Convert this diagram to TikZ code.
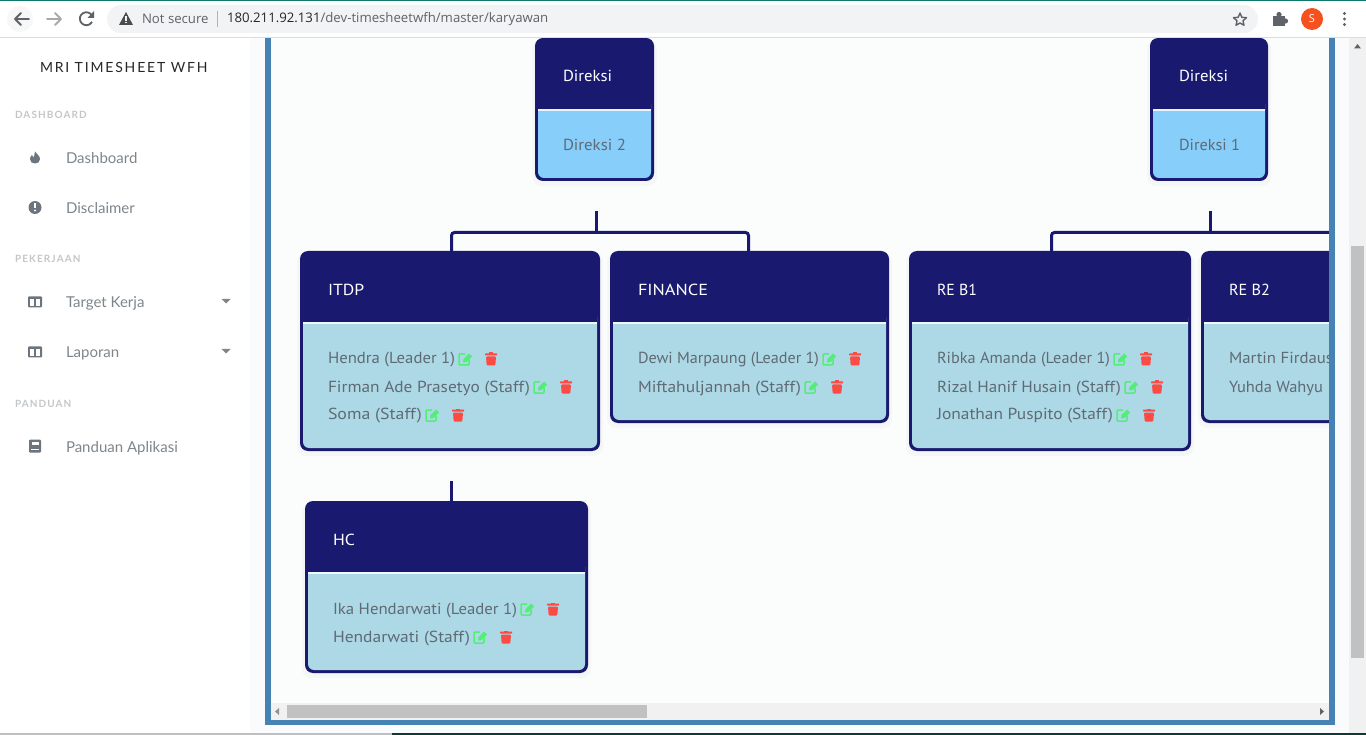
\documentclass[tikz,border=0pt]{standalone}
\usepackage{fontspec}
\setmainfont[FakeStretch=1.1]{PT Sans}
\newfontfamily\uifont{Open Sans}
\newfontfamily\sidefont{Lato}
\newfontfamily\sidespaced[LetterSpace=11]{Lato}
\newfontfamily\titlespaced[LetterSpace=13]{Lato}
\definecolor{navy}{HTML}{191970}
\definecolor{lblue}{HTML}{ADD8E6}
\definecolor{skyb}{HTML}{87CEFA}
\definecolor{frameb}{HTML}{4682B4}
\definecolor{cardtext}{HTML}{5F6B74}
\definecolor{gicon}{HTML}{52EE78}
\definecolor{ricon}{HTML}{FC4A45}
\definecolor{sidetext}{HTML}{7E868C}
\definecolor{sidehead}{HTML}{C4C7CA}
\definecolor{sideicon}{HTML}{6C757D}
\definecolor{chromeg}{HTML}{5F6368}
\definecolor{pagebg}{HTML}{FBFCFC}
\definecolor{sidegap}{HTML}{FAFBFC}
\definecolor{scrollbg}{HTML}{F1F1F1}
\definecolor{scrollth}{HTML}{C1C1C1}
\definecolor{pill}{HTML}{F1F3F4}
\definecolor{barline}{HTML}{DADCE0}
\definecolor{topteal}{HTML}{0F7A6C}
\definecolor{darkteal}{HTML}{0C3B36}
\definecolor{avatar}{HTML}{F4511E}
\newcounter{tn}
\tikzset{
  x=1pt,y=-1pt,
  every node/.style={inner sep=0pt,outer sep=0pt},
  conn/.style={draw=navy,line width=3pt,rounded corners=3pt},
  stub/.style={draw=navy,line width=3pt},
  cardbox/.style={draw=none,fill=navy,rounded corners=8pt,anchor=north west},
  cardtitle/.style={text=white,anchor=base west,font=\fontsize{16}{18}\selectfont},
  persontext/.style={text=cardtext,anchor=base west,font=\fontsize{16}{18}\selectfont},
  sideitem/.style={text=sidetext,anchor=base west,font=\sidefont\fontsize{15}{17}\selectfont},
  sidehd/.style={text=sidehead,anchor=base west,font=\sidespaced\bfseries\fontsize{10}{12}\selectfont},
  uitext/.style={anchor=west,font=\uifont\fontsize{13.2}{16}\selectfont},
}
\newcommand{\orgcard}[7]{%
  \fill[black,opacity=.025,rounded corners=9pt] (#2-3,#3+2) rectangle (#4+3,#5+5);
  \node[cardbox,minimum width=#4pt-#2pt,minimum height=#5pt-#3pt] (#1) at (#2,#3) {};
  \fill[#7,rounded corners=6pt] (#2+3,#3+60) -- (#2+3,#5-3) -- (#4-3,#5-3) -- (#4-3,#3+60) -- cycle;
  \fill[navy] (#2+3,#3+40) rectangle (#4-3,#3+71);
  \fill[white!80!#7] (#2+3,#3+71) rectangle (#4-3,#3+73);
  \fill[#7] (#2+3,#3+73) rectangle (#4-3,#3+80);
}
\newcommand{\editicon}[2]{%
  \draw[gicon,line width=1.5pt,rounded corners=1pt] (#1+7,#2-5.5) -- (#1+1,#2-5.5) -- (#1+1,#2+5.5) -- (#1+11,#2+5.5) -- (#1+11,#2);
  \fill[gicon] (#1+5,#2+3) -- (#1+5.5,#2-0.5) -- (#1+11,#2-6) -- (#1+14,#2-3) -- (#1+8.5,#2+2.5) -- cycle;
}
\newcommand{\trashicon}[2]{%
  \fill[ricon,rounded corners=1pt] (#1+1,#2-3) -- (#1+1.7,#2+6) -- (#1+10.3,#2+6) -- (#1+11,#2-3) -- cycle;
  \fill[ricon,rounded corners=0.5pt] (#1,#2-6) rectangle (#1+12,#2-4);
  \fill[ricon] (#1+4,#2-7) rectangle (#1+8,#2-5);
}
\newcommand{\person}[5]{%
  \stepcounter{tn}
  \node[persontext] (p\arabic{tn}) at (#2,#1+5.5) {\resizebox{\dimexpr #4pt-#2pt-3pt\relax}{\height}{#3}};
  \editicon{#4}{#1+1}
  \trashicon{#5}{#1+1}
}
\newcommand{\bookicon}[2]{%
  \fill[sideicon,rounded corners=1pt] (#1-6,#2-6.5) rectangle (#1+6,#2+6.5);
  \fill[white] (#1-3.5,#2-4) rectangle (#1+3.5,#2-1.5);
  \fill[white] (#1-4,#2+3) rectangle (#1+4,#2+4.2);
}
\newcommand{\colsicon}[2]{%
  \fill[sideicon,rounded corners=1pt] (#1-7,#2-5.5) rectangle (#1+7,#2+5.5);
  \fill[white] (#1-5.2,#2-2.5) rectangle (#1-0.8,#2+3.7);
  \fill[white] (#1+0.8,#2-2.5) rectangle (#1+5.2,#2+3.7);
}
\newcommand{\caret}[2]{%
  \fill[sidetext] (#1-4.5,#2-2) -- (#1+4.5,#2-2) -- (#1,#2+2.5) -- cycle;
}
\begin{document}
\begin{tikzpicture}
\useasboundingbox (0,0) rectangle (1366,735);
\fill[white] (0,0) rectangle (1366,735);
% ---------- page backgrounds
\fill[sidegap] (250,38) rectangle (1349,733);
\fill[pagebg] (271,38) rectangle (1329,720);
% ---------- org chart, clipped to the panel
\begin{scope}
\clip (271,38) rectangle (1329,703);
\orgcard{dirB}{535}{38}{654}{181}{Direksi}{skyb}
\orgcard{dirA}{1150}{38}{1268}{181}{Direksi}{skyb}
\orgcard{itdp}{300}{251}{600}{451}{ITDP}{lblue}
\orgcard{fin}{610}{251}{889}{423}{FINANCE}{lblue}
\orgcard{reba}{909}{251}{1191}{451}{RE B1}{lblue}
\orgcard{rebb}{1201}{251}{1420}{423}{RE B2}{lblue}
\orgcard{hc}{305}{501}{588}{673}{HC}{lblue}
\node[cardtitle] (tdb) at (563,81.5) {\resizebox{49pt}{\height}{Direksi}};
\node[cardtitle] (tda) at (1179,81.5) {\resizebox{49pt}{\height}{Direksi}};
\node[persontext] (bdb) at (563,150.5) {\resizebox{63pt}{\height}{Direksi 2}};
\node[persontext] (bda) at (1179,150.5) {\resizebox{61pt}{\height}{Direksi 1}};
\node[cardtitle] (titdp) at (328,295.5) {ITDP};
\node[cardtitle] (tfin) at (638,295.5) {\resizebox{70pt}{\height}{FINANCE}};
\node[cardtitle] (treba) at (937,295.5) {\resizebox{40pt}{\height}{RE B1}};
\node[cardtitle] (trebb) at (1229,295.5) {\resizebox{41pt}{\height}{RE B2}};
\node[cardtitle] (thc) at (333,545.5) {HC};
\person{358.5}{328}{Hendra (Leader 1)}{458}{485}
\person{386.5}{328}{Firman Ade Prasetyo (Staff)}{533}{560}
\person{414.5}{328}{Soma (Staff)}{425}{452}
\person{358.5}{638}{Dewi Marpaung (Leader 1)}{822}{849}
\person{386.5}{638}{Miftahuljannah (Staff)}{804}{831}
\person{358.5}{937}{Ribka Amanda (Leader 1)}{1113}{1140}
\person{386.5}{937}{Rizal Hanif Husain (Staff)}{1124}{1151}
\person{414.5}{937}{Jonathan Puspito (Staff)}{1116}{1143}
\person{608.5}{333}{Ika Hendarwati (Leader 1)}{520}{547}
\person{636.5}{333}{Hendarwati (Staff)}{473}{500}
\node[persontext] (pm) at (1229,364) {\resizebox{104pt}{\height}{Martin Firdaus}};
\node[persontext] (py) at (1229,392) {\resizebox{94pt}{\height}{Yuhda Wahyu}};
% connectors
\coordinate (stubB) at (596.5,211);
\coordinate (stubA) at (1210.5,211);
\coordinate (stubH) at (451.5,481);
\coordinate (busEnd) at (1340,232.5);
\coordinate (itdpTop) at (451.5,251);
\coordinate (finTop) at (748.5,251);
\coordinate (rebaTop) at (1051.5,251);
\draw[conn] (itdpTop) |- (finTop |- busEnd) -- (finTop);
\draw[conn] (rebaTop) |- (busEnd);
\draw[stub] (stubB) -- (stubB |- busEnd);
\draw[stub] (stubA) -- (stubA |- busEnd);
\draw[stub] (stubH) -- (stubH |- hc.north);
\end{scope}
% ---------- panel frame
\fill[frameb] (265,38) rectangle (271,725);
\fill[frameb] (1329,38) rectangle (1335,725);
\fill[frameb] (265,720) rectangle (1335,725);
% ---------- horizontal scrollbar
\fill[scrollbg] (271,703) rectangle (1329,720);
\fill[scrollth] (287,705) rectangle (647,718);
\fill[chromeg!70] (275,711.5) -- (279,708) -- (279,715) -- cycle;
\fill[chromeg] (1324,711.5) -- (1320,708) -- (1320,715) -- cycle;
% ---------- vertical scrollbar
\fill[scrollbg] (1349,38) rectangle (1366,733);
\fill[scrollth] (1351,246) rectangle (1364,658);
\fill[chromeg] (1357.5,44) -- (1354,48.5) -- (1361,48.5) -- cycle;
% ---------- sidebar
\node[font=\titlespaced\fontsize{14}{16}\selectfont,text=black!85,anchor=base west] (brand) at (40,73) {MRI TIMESHEET WFH};
\node[sidehd] (s1) at (15,119) {DASHBOARD};
\node[sidehd] (s2) at (15,263) {PEKERJAAN};
\node[sidehd] (s3) at (15,407) {PANDUAN};
\node[sideitem] (i1) at (66,164) {Dashboard};
\node[sideitem] (i2) at (66,214) {Disclaimer};
\node[sideitem] (i3) at (66,308) {Target Kerja};
\node[sideitem] (i4) at (66,358) {Laporan};
\node[sideitem] (i5) at (66,452) {Panduan Aplikasi};
% flame
\fill[sideicon] (35,151.5) .. controls (36,154.5) and (40,155) .. (40,159) .. controls (40,162) and (38,163.5) .. (35,163.5) .. controls (32,163.5) and (30,162) .. (30,159) .. controls (30,157) and (31,156) .. (32,155) .. controls (32.5,156.5) and (33,157) .. (34,157) .. controls (34.5,155) and (34.5,153) .. (35,151.5) -- cycle;
% exclamation
\fill[sideicon] (35,207.5) circle (6.5);
\fill[white] (34,203.5) rectangle (36,208.5);
\fill[white] (35,210.5) circle (1.1);
\colsicon{35}{302}
\colsicon{35}{352}
\caret{226}{301}
\caret{226}{351}
\bookicon{35}{446}
% ---------- browser bar
\fill[white] (0,0) rectangle (1366,37);
\fill[topteal] (0,0) rectangle (1366,1);
\fill[barline] (0,37) rectangle (1366,38);
\fill[black!3] (20,19) circle (13);
\fill[pill,rounded corners=14pt] (107,5) rectangle (1258,33);
\draw[chromeg,line width=1.8pt,line cap=round,line join=round] (29,19) -- (15,19) (21,13) -- (15,19) -- (21,25);
\draw[chromeg!55,line width=1.8pt,line cap=round,line join=round] (47,19) -- (61,19) (55,13) -- (61,19) -- (55,25);
\draw[chromeg,line width=1.8pt] (92,15.5) arc (-30:-330:6.5);
\fill[chromeg] (94,11) -- (94,18) -- (87.5,18) -- cycle;
% warning triangle
\fill[black!70] (126,12) -- (133,25) -- (119,25) -- cycle;
\fill[pill] (125.3,16.5) rectangle (126.7,21);
\fill[pill] (125.3,22) rectangle (126.7,23.5);
\node[uitext,text=chromeg] (ns) at (142,19) {Not secure};
\fill[black!30] (216.5,11) rectangle (217.5,27);
\node[uitext,text=black!85] (ip) at (227,19) {180.211.92.131\textcolor{chromeg}{/dev-timesheetwfh/master/karyawan}};
% star
\draw[chromeg,line width=1.4pt,line join=round] (1240,13) -- (1241.8,17.3) -- (1246.5,17.7) -- (1243,20.8) -- (1244,25.3) -- (1240,23) -- (1236,25.3) -- (1237,20.8) -- (1233.5,17.7) -- (1238.2,17.3) -- cycle;
% puzzle
\fill[chromeg] (1273,16) rectangle (1285,26);
\fill[chromeg] (1279,14.5) circle (2.6);
\fill[chromeg] (1285.5,21) circle (2.6);
% avatar
\fill[avatar] (1312,19) circle (11);
\node[font=\uifont\fontsize{11}{13}\selectfont,text=white] (av) at (1312,19) {S};
\fill[chromeg] (1344.5,13.5) circle (1.6) (1344.5,19) circle (1.6) (1344.5,24.5) circle (1.6);
% ---------- bottom strip
\fill[black!25] (0,733) rectangle (392,735);
\fill[darkteal] (392,733) rectangle (1366,735);
\end{tikzpicture}
\end{document}
